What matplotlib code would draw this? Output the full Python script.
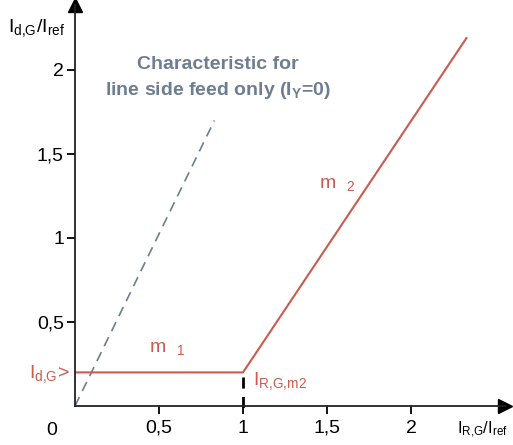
import matplotlib.pyplot as plt
import numpy as np

plt.rcParams['font.family'] = ['Liberation Sans', 'DejaVu Sans']
plt.rcParams['mathtext.fontset'] = 'custom'
plt.rcParams['mathtext.rm'] = 'Liberation Sans'
plt.rcParams['mathtext.it'] = 'Liberation Sans'
plt.rcParams['mathtext.bf'] = 'Liberation Sans:bold'

red = '#cc5a4e'
slate = '#6e7d90'

# characteristic curve (red)
char_x = [0, 1, 2.33]
char_y = [0.2, 0.2, 2.19]
# line side feed only (dashed)
feed_x = [0, 0.83]
feed_y = [0, 1.70]

x_ticks = [0.5, 1, 1.5, 2]
x_ticklabels = ['0,5', '1', '1,5', '2']
y_ticks = [0.5, 1, 1.5, 2]
y_ticklabels = ['0,5', '1', '1,5', '2']

W, H = 513, 445
fig = plt.figure(figsize=(W / 100, H / 100), dpi=100)
ax = fig.add_axes([75 / W, (H - 406) / H, 430 / W, 401 / H])
ax.set_xlim(0, 430 / 168)
ax.set_ylim(0, 401 / 168)

for s in ['top', 'right']:
    ax.spines[s].set_visible(False)
for s in ['left', 'bottom']:
    ax.spines[s].set_linewidth(1.3)
    ax.spines[s].set_color('#222222')

ax.set_xticks(x_ticks)
ax.set_xticklabels(x_ticklabels, fontsize=14)
ax.set_yticks(y_ticks)
ax.set_yticklabels(y_ticklabels, fontsize=14)
ax.tick_params(direction='out', length=6, width=1.3)
ax.tick_params(axis='x', pad=4)
ax.tick_params(axis='y', pad=2)

# axis arrows
ax.plot(1, 0, '>', color='black', ms=10, transform=ax.transAxes, clip_on=False)
ax.plot(0, 1, '^', color='black', ms=10, transform=ax.transAxes, clip_on=False)

ax.plot(feed_x, feed_y, '--', color=slate, lw=1.2, dashes=(6, 4))
ax.plot(char_x, char_y, '-', color=red, lw=1.5)
ax.plot([1, 1], [0.17, -0.04], '--', color='black', lw=2, dashes=(4, 3), clip_on=False)

ax.text(-0.14, -0.145, '0', fontsize=14, ha='center', va='center')

ax.text(0.85, 2.03, 'Characteristic for', fontsize=14, fontweight='bold',
        color=slate, ha='center', va='center')
ax.text(0.85, 1.88, r'line side feed only ($\mathbf{I}_{\mathbf{Y}}$=0)', fontsize=14,
        fontweight='bold', color=slate, ha='center', va='center')

ax.text(0.44, 0.34, r'm  $_{1}$', fontsize=14, color=red, ha='left', va='center')
ax.text(1.45, 1.32, r'm  $_{2}$', fontsize=14, color=red, ha='left', va='center')
ax.text(-0.03, 0.19, r'$\mathrm{I}_{\mathrm{d{,}G}}$>', fontsize=14, color=red,
        ha='right', va='center')
ax.text(1.06, 0.15, r'$\mathrm{I}_{\mathrm{R{,}G{,}m2}}$', fontsize=14, color=red,
        ha='left', va='center')

fig.text(8 / W, 1 - 28 / H, r'$\mathrm{I}_{\mathrm{d{,}G}}/\mathrm{I}_{\mathrm{ref}}$',
         fontsize=14, ha='left', va='center')
fig.text(457 / W, 1 - 430 / H, r'$\mathrm{I}_{\mathrm{R{,}G}}$/$\mathrm{I}_{\mathrm{ref}}$',
         fontsize=12, ha='left', va='center')

fig.savefig('out.png', dpi=100)
